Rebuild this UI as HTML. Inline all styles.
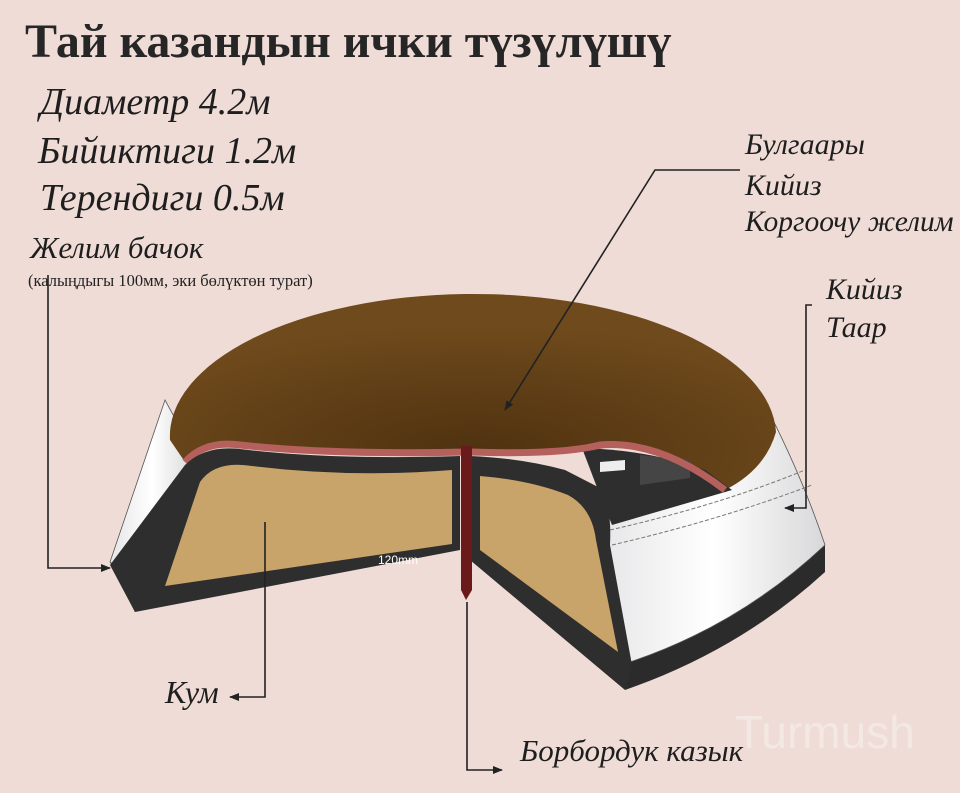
<!DOCTYPE html>
<html><head><meta charset="utf-8"><style>
html,body{margin:0;padding:0;background:#efdcd6;}
svg{display:block}
.it{font-family:"Liberation Serif","DejaVu Serif",serif;font-style:italic;fill:#1e1e1e}
</style></head><body>
<svg width="960" height="793" viewBox="0 0 960 793" xmlns="http://www.w3.org/2000/svg">
<defs>
<marker id="ar" markerWidth="10" markerHeight="8" refX="9" refY="4" orient="auto" markerUnits="userSpaceOnUse">
<path d="M0,0 L10,4 L0,8 Z" fill="#222"/></marker>
<radialGradient id="br" cx="0.5" cy="0.8" r="0.65">
<stop offset="0" stop-color="#4f3210"/><stop offset="1" stop-color="#6f4a1c"/></radialGradient>
<linearGradient id="wh" x1="0" x2="1"><stop offset="0" stop-color="#e6e6e8"/><stop offset="0.5" stop-color="#ffffff"/><stop offset="1" stop-color="#d8d8da"/></linearGradient>
</defs>
<rect width="960" height="793" fill="#efdcd6"/>
<text x="25" y="57" font-family="Liberation Serif,serif" font-weight="bold" font-size="48" fill="#262626">Тай казандын ички түзүлүшү</text>
<text x="40" y="114" class="it" font-size="38">Диаметр 4.2м</text>
<text x="38" y="163" class="it" font-size="38">Бийиктиги 1.2м</text>
<text x="40" y="210" class="it" font-size="38">Терендиги 0.5м</text>
<text x="30" y="258" class="it" font-size="31">Желим бачок</text>
<text x="28" y="286" font-family="Liberation Serif,serif" font-size="16.5" fill="#222">(калыңдыгы 100мм, эки бөлүктөн турат)</text>
<text x="745" y="154" class="it" font-size="30">Булгаары</text>
<text x="745" y="195" class="it" font-size="30">Кийиз</text>
<text x="745" y="231" class="it" font-size="29.5">Коргоочу желим</text>
<text x="826" y="299" class="it" font-size="30">Кийиз</text>
<text x="826" y="337" class="it" font-size="30">Таар</text>
<text x="165" y="703" class="it" font-size="32">Кум</text>
<text x="520" y="761" class="it" font-size="31">Борбордук казык</text>
<text x="735" y="748" font-family="Liberation Sans,sans-serif" font-size="46" fill="#ffffff" fill-opacity="0.35">Turmush</text>

<!-- right base & band -->
<path d="M625,690 L630,660 Q740,620 825,545 L825,572 Q740,650 625,690 Z" fill="#2b2b2b"/>
<path d="M760,395 Q800,470 825,545 Q740,625 630,662 L600,520 L720,490 Z" fill="url(#wh)" stroke="#555" stroke-width="0.8"/>
<path d="M610,530 Q720,505 805,470 M612,545 Q720,520 812,485" stroke="#777" stroke-width="1" fill="none" stroke-dasharray="4,2"/>
<!-- left base & band -->
<path d="M110,562 L135,612 L135,590 L118,560 Z" fill="#2b2b2b"/>
<path d="M165,400 L110,562 L135,580 L195,455 Z" fill="url(#wh)" stroke="#555" stroke-width="0.8"/>
<path d="M185,470 L140,578" stroke="#fff" stroke-width="4"/>
<!-- dish (clipped bowl) -->
<path d="M170,440 A303,142 0 0 1 776,432 Q765,470 725,490 Q660,440 600,445 Q560,455 470,452 Q330,455 240,445 Q205,440 185,462 Z" fill="url(#br)"/>
<!-- inner dark structure -->
<path d="M582,448 Q650,450 705,470 L732,490 L612,525 L598,490 Z" fill="#2e2e2e"/>
<path d="M640,455 L690,460 L690,478 L640,485 Z" fill="#454545"/>
<path d="M600,462 L625,460 L625,470 L600,472 Z" fill="#eee"/>
<!-- pink rim -->
<path d="M185,462 Q205,440 240,445 Q330,455 470,452 Q560,455 600,445 Q660,440 725,490" stroke="#b5605c" stroke-width="7" fill="none"/>
<!-- left cut face -->
<path d="M135,612 L110,565 L185,465 Q205,445 240,449 Q330,460 460,456 L460,550 Z" fill="#2e2e2e"/>
<path d="M165,586 L200,482 Q215,460 252,466 Q350,478 452,470 L452,544 Z" fill="#c8a36a"/>
<!-- right cut face -->
<path d="M470,456 Q520,458 565,470 L600,488 Q612,505 610,545 L632,665 L625,690 L470,560 Z" fill="#2e2e2e"/>
<path d="M480,476 Q530,480 568,495 Q592,508 596,540 L618,652 L480,550 Z" fill="#c8a36a"/>
<!-- pole -->
<path d="M461,446 L472,446 L472,590 L466,600 L461,590 Z" fill="#6a1a1a"/>
<text x="378" y="564" font-family="Liberation Sans,sans-serif" font-size="12" fill="#fff">120mm</text>
<!-- leaders -->
<g stroke="#222" stroke-width="1.6" fill="none">
<path d="M740,170 L655,170 L505,410" marker-end="url(#ar)"/>
<path d="M48,275 L48,568 L110,568" marker-end="url(#ar)"/>
<path d="M265,522 L265,697 L230,697" marker-end="url(#ar)"/>
<path d="M467,602 L467,770 L502,770" marker-end="url(#ar)"/>
<path d="M812,305 L806,305 L806,508 L785,508" marker-end="url(#ar)"/>
</g>
</svg>
</body></html>
